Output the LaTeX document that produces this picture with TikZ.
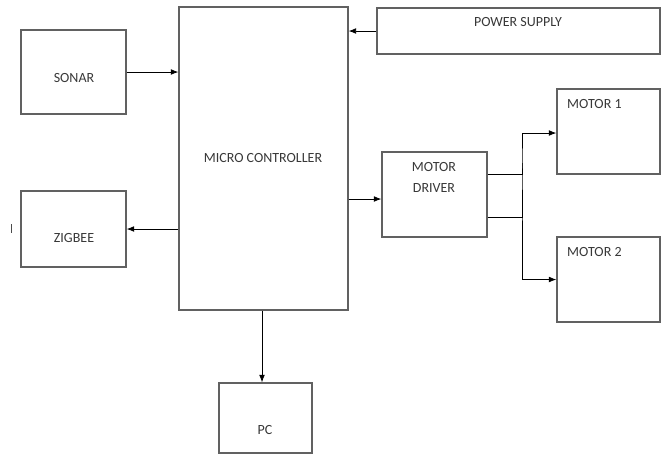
\documentclass[tikz,border=0pt]{standalone}
\usepackage{fontspec}
\setmainfont{Carlito}
\usetikzlibrary{arrows.meta,positioning,calc}
\colorlet{BoxLine}{black!62}
\colorlet{LabelGrey}{black!78}

\begin{document}
\begin{tikzpicture}[
      x=1pt,y=-1pt,
      block/.style={draw=BoxLine,line width=1.3pt,inner sep=0pt},
      lbl/.style={font=\fontsize{14}{16}\selectfont,text=LabelGrey,inner sep=0pt,align=center},
      arr/.style={-{Latex[length=2.6mm,width=2mm]},line width=0.8pt,black}
    ]
    \useasboundingbox (0,0) rectangle (661,456);
    % blocks
    \node[block,minimum width=105pt,minimum height=84pt] (sonar) at (73.5,72) {};
    \node[block,minimum width=169pt,minimum height=303pt] (mc) at (263.5,158.5) {};
    \node[block,minimum width=283pt,minimum height=46pt] (ps) at (518.5,31) {};
    \node[block,minimum width=105pt,minimum height=85pt] (md) at (434.5,194.5) {};
    \node[block,minimum width=103pt,minimum height=85pt] (m1) at (608.5,131.5) {};
    \node[block,minimum width=103pt,minimum height=85pt] (m2) at (608.5,279.5) {};
    \node[block,minimum width=105pt,minimum height=76pt] (zig) at (73.5,229) {};
    \node[block,minimum width=93pt,minimum height=70pt] (pc) at (265.5,418) {};
    % labels
    \node[lbl] (sonarlbl) at (74,78) {SONAR};
    \node[lbl] (mclbl) at (263,158) {MICRO CONTROLLER};
    \node[lbl] (pslbl) at (518,22) {POWER SUPPLY};
    \node[lbl] (mdlbl) at (434,177.5) {MOTOR\\[5pt]DRIVER};
    \node[lbl,anchor=west] (m1lbl) at (567,104) {MOTOR 1};
    \node[lbl,anchor=west] (m2lbl) at (567,252) {MOTOR 2};
    \node[lbl] (ziglbl) at (74,238) {ZIGBEE};
    \node[lbl] (pclbl) at (265,430) {PC};
    \draw[line width=0.6pt,black!70] (11,224) -- (11,233);
    % connectors
    \draw[arr] (sonar.east) -- (mc.west|-sonar.east);
    \draw[arr] (ps.west) -- (mc.east|-ps.west);
    \draw[arr] (mc.west|-zig.east) -- (zig.east);
    \draw[arr] ([yshift=-4.5pt]mc.east|-md.west) -- ([yshift=-4.5pt]md.west);
    \draw[arr] ([yshift=20.5pt]md.east) -| ($(md.east)!0.5!(m1.west)$) |- ([yshift=-1.5pt]m1.west);
    \draw[arr] ([yshift=-22.5pt]md.east) -| ($(md.east)!0.5!(m1.west)$) |- (m2.west);
    \draw[arr] (mc.south-|262,0) -- (pc.north-|262,0);
  \end{tikzpicture}
\end{document}
